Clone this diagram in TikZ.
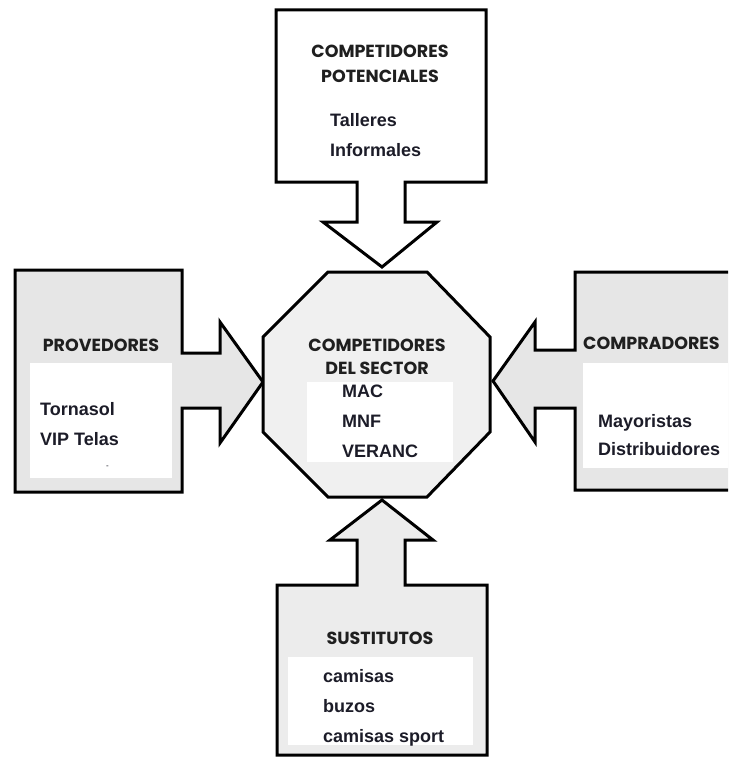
\documentclass[tikz,border=0pt]{standalone}
\usepackage{fontspec}
\setmainfont{Liberation Sans}
\newfontfamily\headfont{Poppins}
\definecolor{boxgray}{HTML}{E6E6E6}
\definecolor{octgray}{HTML}{F0F0F0}
\definecolor{botgray}{HTML}{ECECEC}
\definecolor{txt}{HTML}{1C1C28}
\tikzset{
  outline/.style={draw=black, line width=3pt, line join=miter},
  whitearea/.style={fill=white, draw=none},
  head/.style={font=\headfont\bfseries\fontsize{17.5}{20}\selectfont, text=black!88, inner sep=0pt, anchor=base},
  item/.style={font=\bfseries\fontsize{18}{22}\selectfont, text=txt, inner sep=0pt, anchor=base west},
}
\begin{document}
\begin{tikzpicture}[x=1pt, y=-1pt]
\useasboundingbox (0,0) rectangle (728,757);
\clip (0,0) rectangle (728,757);
% top box with arrow
\draw[outline, fill=white] (276,10) -- (486,10) -- (486,182) -- (405,182) -- (405,222) -- (437,222)
  -- (382,267) -- (323,222) -- (357,222) -- (357,182) -- (276,182) -- cycle;
% left box with arrow
\draw[outline, fill=boxgray] (15,270) -- (182,270) -- (182,353) -- (220,353) -- (220,322) -- (263,382)
  -- (220,443) -- (220,408) -- (182,408) -- (182,492) -- (15,492) -- cycle;
\fill[whitearea] (30,363) rectangle (172,478);
% right box with arrow
\draw[outline, fill=boxgray] (740,272) -- (575,272) -- (575,350) -- (535,350) -- (535,322) -- (493,381)
  -- (535,442) -- (535,408) -- (575,408) -- (575,490) -- (740,490) -- cycle;
\fill[whitearea] (583,363) rectangle (740,468);
% bottom box with arrow
\draw[outline, fill=botgray] (277,755) -- (277,585) -- (357,585) -- (357,540) -- (330,540) -- (382,500)
  -- (433,540) -- (405,540) -- (405,585) -- (487,585) -- (487,755) -- cycle;
\fill[whitearea] (288,657) rectangle (473,745);
% octagon
\draw[outline, fill=octgray] (328,272) -- (427,272) -- (490,337) -- (490,432) -- (427,497) -- (328,497)
  -- (263,432) -- (263,337) -- cycle;
\fill[whitearea] (307,382) rectangle (453,462);

% texts top
\node[head] (tp1) at (380,58) {COMPETIDORES};
\node[head] (tp2) at (380,83) {POTENCIALES};
\node[item] (tp3) at (330,127) {Talleres};
\node[item] (tp4) at (330,157) {Informales};
% left
\node[head] (lp1) at (101,351) {PROVEDORES};
\node[item] (lp2) at (40,415) {Tornasol};
\node[item] (lp3) at (40,445) {VIP Telas};
\node[item, font=\fontsize{8}{8}\selectfont] (lp4) at (106,468) {-};
% center
\node[head] (cp1) at (377,351) {COMPETIDORES};
\node[head] (cp2) at (377,374) {DEL SECTOR};
\node[item] (cp3) at (342,397) {MAC};
\node[item] (cp4) at (342,427) {MNF};
\node[item] (cp5) at (342,457) {VERANC};
% right
\node[head, anchor=base west] (rp1) at (583,349) {COMPRADORES};
\node[item] (rp2) at (598,427) {Mayoristas};
\node[item] (rp3) at (598,455) {Distribuidores};
% bottom
\node[head] (bp1) at (380,644) {SUSTITUTOS};
\node[item] (bp2) at (323,682) {camisas};
\node[item] (bp3) at (323,712) {buzos};
\node[item] (bp4) at (323,742) {camisas sport};
\end{tikzpicture}
\end{document}
